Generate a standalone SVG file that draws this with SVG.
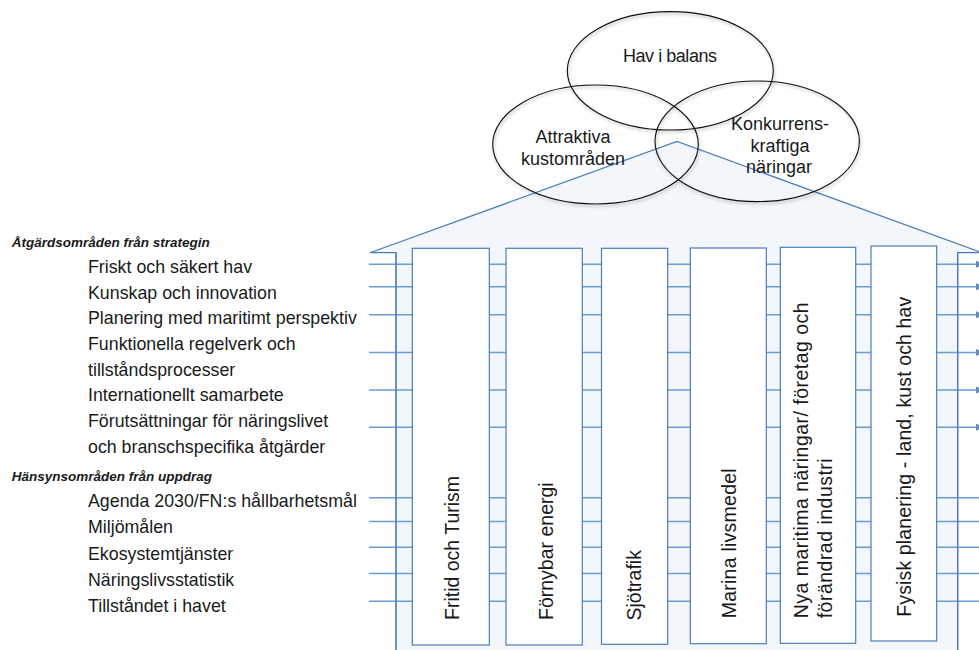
<svg xmlns="http://www.w3.org/2000/svg" width="979" height="650" viewBox="0 0 979 650">
  <style>
    .txt { font-family: "Liberation Sans", Arial, sans-serif; fill: #1a1a1a; }
    .item { font-size: 17.8px; }
    .head { font-size: 13.5px; font-weight: bold; font-style: italic; }
    .col-label { font-size: 19.5px; }
    .goal-label { font-size: 18px; text-anchor: middle; }
    .goal { fill: none; stroke: #111; stroke-width: 1.1; filter: url(#soft); }
    .house { fill: #F3F6FB; stroke: #4A7EBB; stroke-width: 1.2; }
    .column { fill: #ffffff; stroke: #4A7EBB; stroke-width: 1.2; }
    .link { stroke: #6A9DD4; stroke-width: 1.4; fill: none; }
  </style>
  <defs>
    <filter id="soft" x="-10%" y="-10%" width="120%" height="125%">
      <feDropShadow dx="1" dy="2" stdDeviation="1.6" flood-color="#000" flood-opacity="0.3"/>
    </filter>
    <marker id="arr" markerUnits="userSpaceOnUse" markerWidth="9" markerHeight="8" refX="8" refY="4" orient="auto">
      <path d="M0,0.5 L8,4 L0,7.5 Z" fill="#5B8CC8"/>
    </marker>
  </defs>

  <rect width="979" height="650" fill="#ffffff"/>

  <!-- House body with roof -->
  <g id="house">
    <path class="house" d="M370,252.7 L677,141.5 L982,252.7 L957.7,252.7 L957.7,656 L396,656 L396,252.7 Z"/>
  </g>

  <!-- Horizontal connectors from each area across the sectors -->
  <g id="connectors">
    <line class="link" x1="369" y1="264.3" x2="984" y2="264.3" marker-end="url(#arr)"/>
    <line class="link" x1="369" y1="286.7" x2="984" y2="286.7" marker-end="url(#arr)"/>
    <line class="link" x1="369" y1="314.7" x2="984" y2="314.7" marker-end="url(#arr)"/>
    <line class="link" x1="369" y1="352.5" x2="984" y2="352.5" marker-end="url(#arr)"/>
    <line class="link" x1="369" y1="390" x2="984" y2="390" marker-end="url(#arr)"/>
    <line class="link" x1="369" y1="427.3" x2="984" y2="427.3" marker-end="url(#arr)"/>
    <line class="link" x1="369" y1="497.7" x2="984" y2="497.7"/>
    <line class="link" x1="369" y1="521.5" x2="984" y2="521.5"/>
    <line class="link" x1="369" y1="547.3" x2="984" y2="547.3"/>
    <line class="link" x1="369" y1="573.5" x2="984" y2="573.5"/>
    <line class="link" x1="369" y1="601.3" x2="984" y2="601.3"/>
  </g>

  <!-- Walls drawn over the connectors -->
  <g id="walls" stroke="#4A7EBB" stroke-width="1.2">
    <line x1="396" y1="252.7" x2="396" y2="656"/>
    <line x1="957.7" y1="252.7" x2="957.7" y2="656"/>
  </g>

  <!-- Sector columns -->
  <g id="col-fritid">
    <rect class="column" x="412.3" y="248.3" width="77" height="396.7"/>
    <text class="txt col-label" transform="translate(459,620) rotate(-90)">Fritid och Turism</text>
  </g>
  <g id="col-fornybar">
    <rect class="column" x="506" y="248.3" width="76.3" height="396.7"/>
    <text class="txt col-label" transform="translate(552.5,620) rotate(-90)">Förnybar energi</text>
  </g>
  <g id="col-sjotrafik">
    <rect class="column" x="601.5" y="248.3" width="66.2" height="396"/>
    <text class="txt col-label" transform="translate(641,620.5) rotate(-90)">Sjötrafik</text>
  </g>
  <g id="col-marina">
    <rect class="column" x="690.3" y="248" width="76" height="395.7"/>
    <text class="txt col-label" transform="translate(735.7,618.3) rotate(-90)" textLength="150" lengthAdjust="spacing">Marina livsmedel</text>
  </g>
  <g id="col-nya">
    <rect class="column" x="780.3" y="247.3" width="75.4" height="396"/>
    <text class="txt col-label" transform="translate(808.3,618.3) rotate(-90)" textLength="316" lengthAdjust="spacing">Nya maritima näringar/ företag och</text>
    <text class="txt col-label" transform="translate(832.3,618.3) rotate(-90)" textLength="160" lengthAdjust="spacing">förändrad industri</text>
  </g>
  <g id="col-fysisk">
    <rect class="column" x="871" y="246" width="65.7" height="395"/>
    <text class="txt col-label" transform="translate(910.7,616.7) rotate(-90)" textLength="320" lengthAdjust="spacing">Fysisk planering - land, kust och hav</text>
  </g>

  <!-- Three overlapping goals -->
  <g id="goal-hav">
    <ellipse class="goal" cx="670.3" cy="70.8" rx="103" ry="59.2"/>
    <text class="txt goal-label" x="670" y="62.3" textLength="94" lengthAdjust="spacing">Hav i balans</text>
  </g>
  <g id="goal-attraktiva">
    <ellipse class="goal" cx="595.5" cy="144.5" rx="102.8" ry="59.5"/>
    <text class="txt goal-label" x="573" y="142.7">Attraktiva</text>
    <text class="txt goal-label" x="573" y="164.8">kustområden</text>
  </g>
  <g id="goal-konkurrens">
    <ellipse class="goal" cx="757.2" cy="141.3" rx="102.2" ry="60.3"/>
    <text class="txt goal-label" x="780" y="130">Konkurrens-</text>
    <text class="txt goal-label" x="780" y="151.7">kraftiga</text>
    <text class="txt goal-label" x="779" y="173.3">näringar</text>
  </g>

  <!-- Action areas from the strategy -->
  <g id="atgardsomraden">
    <text class="txt head" x="11.7" y="246.5">Åtgärdsområden från strategin</text>
    <text class="txt item" x="88" y="273">Friskt och säkert hav</text>
    <text class="txt item" x="88" y="298.5">Kunskap och innovation</text>
    <text class="txt item" x="88" y="324">Planering med maritimt perspektiv</text>
    <text class="txt item" x="88" y="349.5">Funktionella regelverk och</text>
    <text class="txt item" x="88" y="375.5">tillståndsprocesser</text>
    <text class="txt item" x="88" y="401">Internationellt samarbete</text>
    <text class="txt item" x="88" y="427">Förutsättningar för näringslivet</text>
    <text class="txt item" x="88" y="452.5">och branschspecifika åtgärder</text>
  </g>

  <!-- Considerations from the assignment -->
  <g id="hansynsomraden">
    <text class="txt head" x="11.7" y="480.7">Hänsynsområden från uppdrag</text>
    <text class="txt item" x="88" y="506.7">Agenda 2030/FN:s hållbarhetsmål</text>
    <text class="txt item" x="88" y="533.3">Miljömålen</text>
    <text class="txt item" x="88" y="560">Ekosystemtjänster</text>
    <text class="txt item" x="88" y="585.7">Näringslivsstatistik</text>
    <text class="txt item" x="88" y="611.7">Tillståndet i havet</text>
  </g>
</svg>
